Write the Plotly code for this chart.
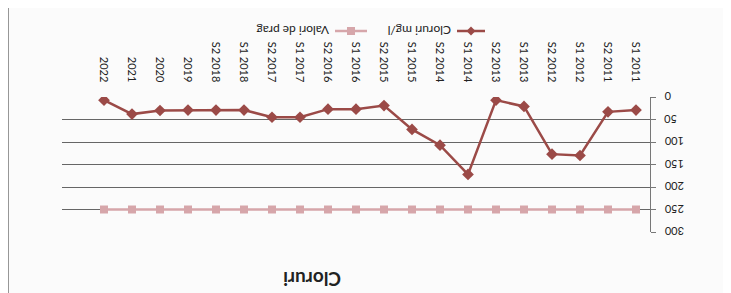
import plotly.graph_objects as go

categories = ["S1 2011", "S2 2011", "S1 2012", "S2 2012", "S1 2013", "S2 2013",
              "S1 2014", "S2 2014", "S1 2015", "S2 2015", "S1 2016", "S2 2016",
              "S1 2017", "S2 2017", "S1 2018", "S2 2018", "2019", "2020", "2021", "2022"]
cloruri = [29, 33, 130, 127, 21, 7, 172, 107, 72, 19, 27, 27, 45, 45, 29, 29, 29, 30, 38, 7]
valori_prag = [250] * 20
y_ticks = [0, 50, 100, 150, 200, 250, 300]

C_CL = "#9b4a47"
C_VP = "#d6a6aa"
FONT = "Lato"

fig = go.Figure()
fig.add_trace(go.Scatter(x=categories, y=valori_prag, mode="lines+markers",
                         line=dict(color=C_VP, width=2.5),
                         marker=dict(symbol="square", size=8, color=C_VP),
                         name="Valori de prag", showlegend=False))
fig.add_trace(go.Scatter(x=categories, y=cloruri, mode="lines+markers",
                         line=dict(color=C_CL, width=2.5),
                         marker=dict(symbol="diamond", size=9, color=C_CL),
                         name="Cloruri mg/l", showlegend=False))

# page body has an 8px margin: work in screen coordinates and convert
OFF = 8
L, R, T, B = 62, 650, 97, 232          # plot area in screen pixels
W, H = 731 - OFF, 293 - OFF              # figure size
pw, ph = R - L, B - T

def px(x):
    return (x - L) / pw

def py(y):
    return (B - y) / ph

shapes = [
    dict(type="rect", xref="paper", yref="paper", x0=px(8), x1=px(760), y0=py(7), y1=py(320),
         line=dict(color="#555", width=1.2), layer="below"),
    dict(type="line", xref="paper", yref="paper", x0=px(457), x1=px(485), y0=py(31), y1=py(31),
         line=dict(color=C_CL, width=2.5)),
    dict(type="path", xref="paper", yref="paper", xsizemode="pixel", ysizemode="pixel",
         xanchor=px(471), yanchor=py(31), path="M -4.5 0 L 0 -4.5 L 4.5 0 L 0 4.5 Z",
         fillcolor=C_CL, line=dict(color=C_CL, width=0)),
    dict(type="line", xref="paper", yref="paper", x0=px(335), x1=px(367), y0=py(31), y1=py(31),
         line=dict(color=C_VP, width=2.5)),
    dict(type="rect", xref="paper", yref="paper", xsizemode="pixel", ysizemode="pixel",
         xanchor=px(351), yanchor=py(31), x0=-4, x1=4, y0=-4, y1=4,
         fillcolor=C_VP, line=dict(color=C_VP, width=0)),
]

annotations = [
    dict(text="<b>Cloruri</b>", xref="paper", yref="paper", x=px(312), y=py(280),
         xanchor="center", yanchor="middle",
         showarrow=False, textangle=180, font=dict(family=FONT, size=19, color="#222")),
    dict(text="Cloruri mg/l", xref="paper", yref="paper", x=px(420), y=py(31),
         xanchor="center", yanchor="middle",
         showarrow=False, textangle=180, font=dict(family=FONT, size=12, color="#222")),
    dict(text="Valori de prag", xref="paper", yref="paper", x=px(293), y=py(31),
         xanchor="center", yanchor="middle",
         showarrow=False, textangle=180, font=dict(family=FONT, size=12, color="#222")),
]
# y tick labels (upside down, left aligned) placed on the y scale
for v in y_ticks:
    annotations.append(dict(text=str(v), xref="paper", yref="y", x=px(662), y=v,
                            xanchor="left", yanchor="middle", showarrow=False,
                            textangle=180, font=dict(family=FONT, size=11, color="#222")))

fig.update_layout(
    width=W, height=H,
    margin=dict(l=L - OFF, r=W - (R - OFF), t=T - OFF, b=H - (B - OFF), autoexpand=False),
    paper_bgcolor="#fbfbfb", plot_bgcolor="#fbfbfb",
    showlegend=False,
    shapes=shapes, annotations=annotations,
    font=dict(family=FONT, size=11, color="#222"),
    xaxis=dict(type="category", categoryorder="array", categoryarray=categories,
               range=[20.5, -0.5], side="top", tickangle=90, showgrid=False,
               showline=False, ticks="", automargin=False, ticklabelstandoff=12,
               tickfont=dict(family=FONT, size=11)),
    yaxis=dict(range=[300, 0], side="right", tickvals=y_ticks, showticklabels=False,
               showgrid=True, gridcolor="#666", gridwidth=1.3, zeroline=False,
               showline=True, linecolor="#777", ticks="outside", ticklen=5,
               tickcolor="#777", automargin=False),
)

fig.write_html("out.html")
